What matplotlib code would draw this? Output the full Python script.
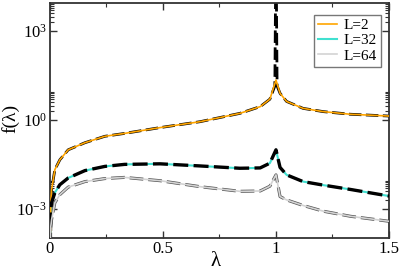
import matplotlib
matplotlib.use("Agg")
import matplotlib.pyplot as plt
from matplotlib.ticker import FixedLocator, FixedFormatter, NullFormatter

plt.rcParams['font.family'] = ['Liberation Serif', 'DejaVu Serif']
plt.rcParams['mathtext.fontset'] = 'custom'
plt.rcParams['mathtext.rm'] = 'Liberation Serif'

# lambda grid
lam = [0, 0.004, 0.0075, 0.022, 0.044, 0.081, 0.155, 0.243, 0.33, 0.487, 0.664,
       0.84, 0.93, 0.973, 1.0, 1.018, 1.047, 1.12, 1.21, 1.33, 1.5]

f_L2 = [1e-5, 1.6e-3, 4.4e-3, 0.021, 0.045, 0.098, 0.17, 0.28, 0.35, 0.55, 0.87,
        1.66, 2.8, 5.0, 22, 7.9, 4.2, 2.45, 1.9, 1.55, 1.35]
f_L32 = [1e-5, 9.3e-4, 1.6e-3, 3.5e-3, 6.5e-3, 0.011, 0.0195, 0.027, 0.0316, 0.033, 0.028,
         0.0234, 0.024, 0.0347, 0.098, 0.025, 0.014, 0.0083, 0.0063, 0.0045, 0.0027]
f_L64 = [1e-5, 2.5e-4, 4.3e-4, 1.6e-3, 3.0e-3, 5.4e-3, 8.3e-3, 0.0105, 0.0115, 0.0089, 0.0056,
         0.0039, 0.004, 0.0058, 0.014, 0.0026, 0.002, 0.0013, 8.3e-4, 5.6e-4, 3.8e-4]

# dashed reference curve for L=2, diverging at lambda=1
lam_ref2 = [0, 0.004, 0.0075, 0.022, 0.044, 0.081, 0.155, 0.243, 0.33, 0.487, 0.664,
            0.84, 0.93, 0.973, 0.995, 1.0, 1.005, 1.018, 1.047, 1.12, 1.21, 1.33, 1.5]
f_ref2 = [1e-5, 1.6e-3, 4.4e-3, 0.021, 0.045, 0.098, 0.17, 0.28, 0.35, 0.55, 0.87,
          1.66, 2.8, 5.0, 14, 1e6, 14, 7.9, 4.2, 2.45, 1.9, 1.55, 1.35]

labels = ['L=2', 'L=32', 'L=64']
colors = ['#ffa500', '#40e0d0', '#d3d3d3']

fig = plt.figure(figsize=(3.99, 2.71), dpi=100)
ax = fig.add_axes([0.125, 0.12, 0.85, 0.869])

dash = (0, (4.5, 1.6))
# L=2: black dashes under orange
ax.plot(lam_ref2, f_ref2, color='black', lw=2.0, linestyle=dash, zorder=2)
ax.plot(lam, f_L2, color=colors[0], lw=1.2, label=labels[0], zorder=3)
# L=32: turquoise under thick black dashes
ax.plot(lam, f_L32, color=colors[1], lw=1.5, label=labels[1], zorder=2)
ax.plot(lam, f_L32, color='black', lw=2.4, linestyle=dash, zorder=3)
# L=64: gray dashes under light gray line
ax.plot(lam, f_L64, color='#555555', lw=2.2, linestyle=dash, zorder=2)
ax.plot(lam, f_L64, color=colors[2], lw=1.2, label=labels[2], zorder=3)

ax.set_yscale('log')
ax.set_xlim(0, 1.5)
ax.set_ylim(1.0e-4, 8.8e3)

ax.xaxis.set_major_locator(FixedLocator([0, 0.5, 1, 1.5]))
ax.xaxis.set_major_formatter(FixedFormatter(['0', '0.5', '1', '1.5']))
ax.xaxis.set_minor_locator(FixedLocator([0.25, 0.75, 1.25]))

ax.yaxis.set_major_locator(FixedLocator([1e-3, 1e0, 1e3]))
ax.yaxis.set_major_formatter(FixedFormatter([r'$\mathregular{10^{-3}}$', r'$\mathregular{10^{0}}$',
                                             r'$\mathregular{10^{3}}$']))
minors = [k * 10.0 ** n for n in (-3, 0, 3) for k in range(2, 10)]
ax.yaxis.set_minor_locator(FixedLocator(minors))
ax.yaxis.set_minor_formatter(NullFormatter())

ax.tick_params(which='both', direction='in', top=True, right=True, labelsize=12, colors='#333333',
               labelcolor='black', pad=2)
ax.tick_params(which='major', length=5, width=1)
ax.tick_params(which='minor', length=3, width=0.8)
for s in ax.spines.values():
    s.set_linewidth(1.3)
    s.set_color('#333333')

ax.set_xlabel('λ', fontsize=15, va='center')
ax.set_ylabel('f(λ)', fontsize=14, va='center')
ax.xaxis.set_label_coords(0.49, -0.098)
ax.yaxis.set_label_coords(-0.115, 0.51)

leg = ax.legend(loc='upper right', fontsize=11, frameon=True, fancybox=False,
                handlelength=1.3, handletextpad=0.4, borderpad=0.25, labelspacing=0.1,
                borderaxespad=0.0, bbox_to_anchor=(0.975, 0.95))
leg.get_frame().set_edgecolor('#555555')
leg.get_frame().set_linewidth(1.0)

fig.savefig('out.png', dpi=100)
